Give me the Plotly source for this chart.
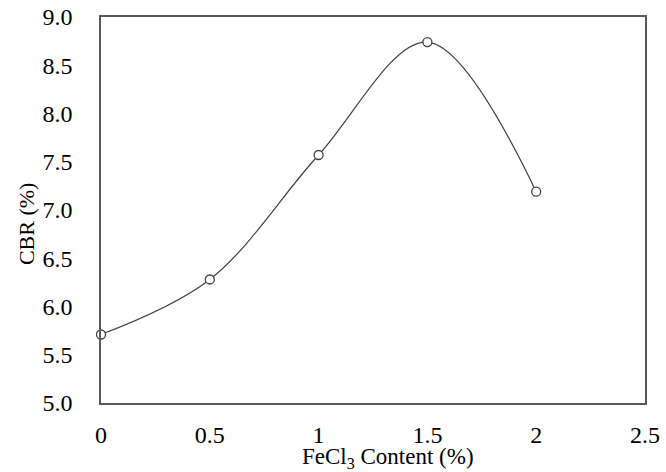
import plotly.graph_objects as go

fecl3_content = [0, 0.5, 1, 1.5, 2]
cbr_values = [5.71, 6.28, 7.57, 8.74, 7.19]

x_ticks = [0, 0.5, 1, 1.5, 2, 2.5]
x_tick_labels = ["0", "0.5", "1", "1.5", "2", "2.5"]
y_ticks = [5.0, 5.5, 6.0, 6.5, 7.0, 7.5, 8.0, 8.5, 9.0]
y_tick_labels = ["5.0", "5.5", "6.0", "6.5", "7.0", "7.5", "8.0", "8.5", "9.0"]

x_title = "FeCl<sub>3</sub> Content (%)"
y_title = "CBR (%)"

font_family = "Liberation Serif, Times New Roman, serif"

fig = go.Figure()
fig.add_trace(go.Scatter(
    x=fecl3_content, y=cbr_values,
    mode="lines+markers",
    line=dict(color="#404040", width=1.2, shape="spline", smoothing=1.0),
    marker=dict(symbol="circle", size=9, color="white",
                line=dict(color="#404040", width=1.3)),
    showlegend=False,
    cliponaxis=False,
))

fig.update_layout(
    width=666, height=472,
    margin=dict(l=101, r=21, t=17, b=69),
    paper_bgcolor="white", plot_bgcolor="white",
    font=dict(family=font_family, size=24, color="#000000"),
    xaxis=dict(
        range=[0, 2.5], tickvals=x_ticks, ticktext=x_tick_labels,
        showgrid=False, zeroline=False, showline=True, mirror=True,
        linecolor="#595959", linewidth=1.5, ticks="",
        ticklabelstandoff=9, automargin=False,
    ),
    yaxis=dict(
        range=[5.0, 9.0], tickvals=y_ticks, ticktext=y_tick_labels,
        showgrid=False, zeroline=False, showline=True, mirror=True,
        linecolor="#595959", linewidth=1.5, ticks="",
        ticklabelstandoff=22, automargin=False,
    ),
    annotations=[
        dict(text=x_title, xref="paper", yref="paper",
             x=0.5276, y=-0.143, xanchor="center", yanchor="middle",
             showarrow=False, font=dict(family=font_family, size=23)),
        dict(text=y_title, xref="paper", yref="paper",
             x=-0.138, y=0.466, xanchor="center", yanchor="middle",
             textangle=-90, showarrow=False,
             font=dict(family=font_family, size=22)),
    ],
)

fig.write_html("out.html")
